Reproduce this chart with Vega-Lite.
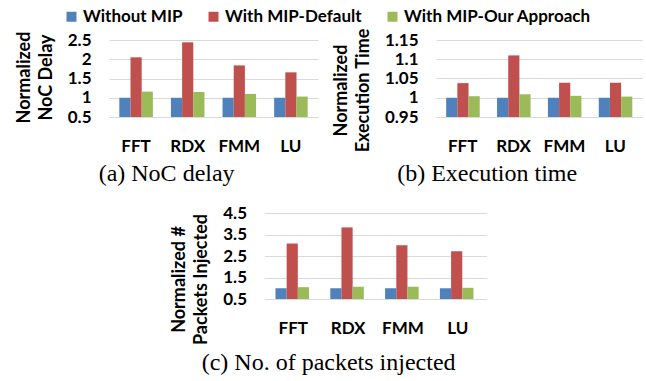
{
  "$schema": "https://vega.github.io/schema/vega-lite/v6.json",
  "padding": {"left": 15, "top": 8, "right": 5, "bottom": 5},
  "data": {"values": [
    {"panel": "a", "bench": "FFT", "series": "Without MIP", "value": 1},
    {"panel": "a", "bench": "FFT", "series": "With MIP-Default", "value": 2.05},
    {"panel": "a", "bench": "FFT", "series": "With MIP-Our Approach", "value": 1.16},
    {"panel": "a", "bench": "RDX", "series": "Without MIP", "value": 1},
    {"panel": "a", "bench": "RDX", "series": "With MIP-Default", "value": 2.44},
    {"panel": "a", "bench": "RDX", "series": "With MIP-Our Approach", "value": 1.15},
    {"panel": "a", "bench": "FMM", "series": "Without MIP", "value": 1},
    {"panel": "a", "bench": "FMM", "series": "With MIP-Default", "value": 1.84},
    {"panel": "a", "bench": "FMM", "series": "With MIP-Our Approach", "value": 1.1},
    {"panel": "a", "bench": "LU", "series": "Without MIP", "value": 1},
    {"panel": "a", "bench": "LU", "series": "With MIP-Default", "value": 1.66},
    {"panel": "a", "bench": "LU", "series": "With MIP-Our Approach", "value": 1.03},
    {"panel": "b", "bench": "FFT", "series": "Without MIP", "value": 1},
    {"panel": "b", "bench": "FFT", "series": "With MIP-Default", "value": 1.038},
    {"panel": "b", "bench": "FFT", "series": "With MIP-Our Approach", "value": 1.004},
    {"panel": "b", "bench": "RDX", "series": "Without MIP", "value": 1},
    {"panel": "b", "bench": "RDX", "series": "With MIP-Default", "value": 1.11},
    {"panel": "b", "bench": "RDX", "series": "With MIP-Our Approach", "value": 1.009},
    {"panel": "b", "bench": "FMM", "series": "Without MIP", "value": 1},
    {"panel": "b", "bench": "FMM", "series": "With MIP-Default", "value": 1.039},
    {"panel": "b", "bench": "FMM", "series": "With MIP-Our Approach", "value": 1.005},
    {"panel": "b", "bench": "LU", "series": "Without MIP", "value": 1},
    {"panel": "b", "bench": "LU", "series": "With MIP-Default", "value": 1.039},
    {"panel": "b", "bench": "LU", "series": "With MIP-Our Approach", "value": 1.003},
    {"panel": "c", "bench": "FFT", "series": "Without MIP", "value": 1},
    {"panel": "c", "bench": "FFT", "series": "With MIP-Default", "value": 3.08},
    {"panel": "c", "bench": "FFT", "series": "With MIP-Our Approach", "value": 1.05},
    {"panel": "c", "bench": "RDX", "series": "Without MIP", "value": 1},
    {"panel": "c", "bench": "RDX", "series": "With MIP-Default", "value": 3.83},
    {"panel": "c", "bench": "RDX", "series": "With MIP-Our Approach", "value": 1.07},
    {"panel": "c", "bench": "FMM", "series": "Without MIP", "value": 1},
    {"panel": "c", "bench": "FMM", "series": "With MIP-Default", "value": 3.0},
    {"panel": "c", "bench": "FMM", "series": "With MIP-Our Approach", "value": 1.07},
    {"panel": "c", "bench": "LU", "series": "Without MIP", "value": 1},
    {"panel": "c", "bench": "LU", "series": "With MIP-Default", "value": 2.72},
    {"panel": "c", "bench": "LU", "series": "With MIP-Our Approach", "value": 1.02}
  ]},
  "center": true,
  "spacing": 18,
  "vconcat": [
    {
      "spacing": 14,
      "hconcat": [
        {
          "width": 209, "height": 77,
          "transform": [{"filter": "datum.panel == 'a'"}],
          "title": {"text": "(a) NoC delay", "orient": "bottom", "anchor": "middle", "frame": "bounds"},
          "mark": {"type": "bar"},
          "encoding": {
            "x": {"field": "bench", "type": "nominal", "sort": ["FFT", "RDX", "FMM", "LU"], "scale": {"paddingInner": 0.35, "paddingOuter": 0.2}, "axis": {"title": null, "labelAngle": 0}},
            "xOffset": {"field": "series", "type": "nominal", "sort": ["Without MIP", "With MIP-Default", "With MIP-Our Approach"], "scale": {"paddingInner": 0, "paddingOuter": 0}},
            "y": {"field": "value", "type": "quantitative", "scale": {"domain": [0.5, 2.5], "zero": false, "nice": false}, "axis": {"values": [0.5, 1, 1.5, 2, 2.5], "labelExpr": "'' + datum.value", "title": ["Normalized", "NoC Delay"], "titleY": 37}},
            "y2": {"datum": 0.5},
            "color": {"field": "series", "type": "nominal", "sort": ["Without MIP", "With MIP-Default", "With MIP-Our Approach"], "scale": {"domain": ["Without MIP", "With MIP-Default", "With MIP-Our Approach"], "range": ["#4F81BD", "#C0504D", "#9BBB59"]}, "legend": {"title": null, "orient": "none", "direction": "horizontal", "legendX": -46, "legendY": -32}}
          }
        },
        {
          "width": 206, "height": 77,
          "transform": [{"filter": "datum.panel == 'b'"}],
          "title": {"text": "(b) Execution time", "orient": "bottom", "anchor": "middle", "frame": "bounds"},
          "mark": {"type": "bar"},
          "encoding": {
            "x": {"field": "bench", "type": "nominal", "sort": ["FFT", "RDX", "FMM", "LU"], "scale": {"paddingInner": 0.35, "paddingOuter": 0.2}, "axis": {"title": null, "labelAngle": 0}},
            "xOffset": {"field": "series", "type": "nominal", "sort": ["Without MIP", "With MIP-Default", "With MIP-Our Approach"], "scale": {"paddingInner": 0, "paddingOuter": 0}},
            "y": {"field": "value", "type": "quantitative", "scale": {"domain": [0.95, 1.15], "zero": false, "nice": false}, "axis": {"values": [0.95, 1, 1.05, 1.1, 1.15], "labelExpr": "'' + datum.value", "title": ["Normalized", "Execution Time"], "titleY": 50}},
            "y2": {"datum": 0.95},
            "color": {"field": "series", "type": "nominal", "sort": ["Without MIP", "With MIP-Default", "With MIP-Our Approach"], "scale": {"domain": ["Without MIP", "With MIP-Default", "With MIP-Our Approach"], "range": ["#4F81BD", "#C0504D", "#9BBB59"]}, "legend": {"title": null, "orient": "none", "direction": "horizontal", "legendX": -46, "legendY": -32}}
          }
        }
      ]
    },
    {
      "width": 222, "height": 86,
      "transform": [{"filter": "datum.panel == 'c'"}],
      "title": {"text": "(c) No. of packets injected", "orient": "bottom", "anchor": "middle", "frame": "bounds", "offset": 7},
      "mark": {"type": "bar"},
      "encoding": {
        "x": {"field": "bench", "type": "nominal", "sort": ["FFT", "RDX", "FMM", "LU"], "scale": {"paddingInner": 0.35, "paddingOuter": 0.2}, "axis": {"title": null, "labelAngle": 0}},
        "xOffset": {"field": "series", "type": "nominal", "sort": ["Without MIP", "With MIP-Default", "With MIP-Our Approach"], "scale": {"paddingInner": 0, "paddingOuter": 0}},
        "y": {"field": "value", "type": "quantitative", "scale": {"domain": [0.5, 4.5], "zero": false, "nice": false}, "axis": {"values": [0.5, 1.5, 2.5, 3.5, 4.5], "labelExpr": "'' + datum.value", "title": ["Normalized #", "Packets Injected"], "titleY": 66}},
        "y2": {"datum": 0.5},
        "color": {"field": "series", "type": "nominal", "sort": ["Without MIP", "With MIP-Default", "With MIP-Our Approach"], "scale": {"domain": ["Without MIP", "With MIP-Default", "With MIP-Our Approach"], "range": ["#4F81BD", "#C0504D", "#9BBB59"]}, "legend": {"title": null, "orient": "none", "direction": "horizontal", "legendX": -46, "legendY": -32}}
      }
    }
  ],
  "config": {
    "view": {"stroke": null},
    "font": "Lato",
    "axis": {
      "domain": false, "ticks": false,
      "labelFont": "Lato", "labelFontWeight": "bold", "labelFontSize": 17, "labelColor": "#000",
      "titleFont": "Lato", "titleFontWeight": "bold", "titleFontSize": 18, "titleColor": "#000", "titleLineHeight": 22,
      "gridColor": "#d9d9d9", "gridWidth": 1.2
    },
    "axisX": {"grid": false, "labelPadding": 21},
    "axisY": {"grid": true, "labelPadding": 18, "titlePadding": 12},
    "legend": {"labelFont": "Lato", "labelFontWeight": "bold", "labelFontSize": 17, "labelColor": "#000", "labelLimit": 0, "symbolType": "square", "symbolSize": 100, "symbolStrokeWidth": 0, "labelOffset": 3, "columnPadding": 22},
    "title": {"font": "Liberation Serif", "fontWeight": "normal", "fontSize": 24, "color": "#000", "offset": 8}
  }
}
